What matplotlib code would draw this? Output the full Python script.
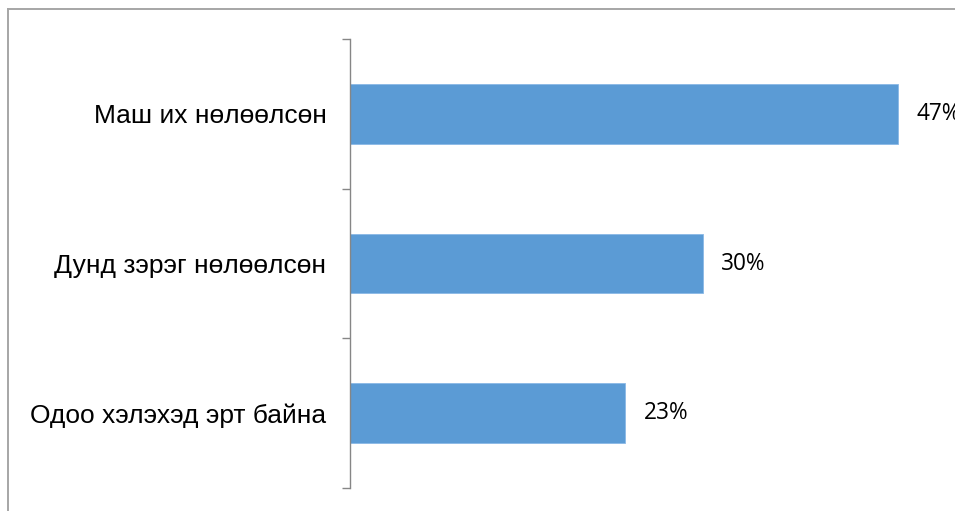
import matplotlib
matplotlib.use("Agg")
import matplotlib.pyplot as plt
from matplotlib.lines import Line2D

categories = ["Маш их нөлөөлсөн", "Дунд зэрэг нөлөөлсөн", "Одоо хэлэхэд эрт байна"]
values = [46.6, 30.0, 23.4]
value_labels = ["47%", "30%", "23%"]

W, H, DPI = 955, 511, 100
fig = plt.figure(figsize=(W / DPI, H / DPI), dpi=DPI)

# outer chart frame (top and left visible)
frame_color = "#a6a6a6"
fig.add_artist(Line2D([8 / W, 1.0], [1 - 9.5 / H, 1 - 9.5 / H], color=frame_color, lw=1.4))
fig.add_artist(Line2D([8 / W, 8 / W], [0, 1 - 9.5 / H], color=frame_color, lw=1.4))

ax_left, ax_right = 350 / W, 938.5 / W
ax_top, ax_bottom = 1 - 39 / H, 1 - 488 / H
ax = fig.add_axes([ax_left, ax_bottom, ax_right - ax_left, ax_top - ax_bottom])

pos = list(range(len(categories)))
ax.barh(pos, values, height=0.4, color="#5b9bd5", edgecolor="#8ab8e6", linewidth=0.6)
ax.set_xlim(0, 50)
ax.set_ylim(len(categories) - 0.5, -0.5)

for p, v, lab in zip(pos, values, value_labels):
    ax.annotate(lab, xy=(v, p), xytext=(13, 0), textcoords="offset points",
                va="center", ha="left", fontsize=16.3, family=["Open Sans", "DejaVu Sans"],
                color="#000000")

for s in ["top", "right", "bottom"]:
    ax.spines[s].set_visible(False)
ax.spines["left"].set_color("#868686")
ax.spines["left"].set_linewidth(1.0)
ax.set_xticks([])

ax.set_yticks([i - 0.5 for i in range(len(categories) + 1)])
ax.set_yticklabels([])
ax.tick_params(axis="y", which="major", length=5.8, width=1.0, color="#868686", direction="out")
ax.set_yticks(pos, minor=True)
ax.set_yticklabels(categories, minor=True, fontsize=19, family=["Liberation Sans", "DejaVu Sans"])
ax.tick_params(axis="y", which="minor", length=0, pad=17)

fig.savefig("out.png", dpi=DPI)
